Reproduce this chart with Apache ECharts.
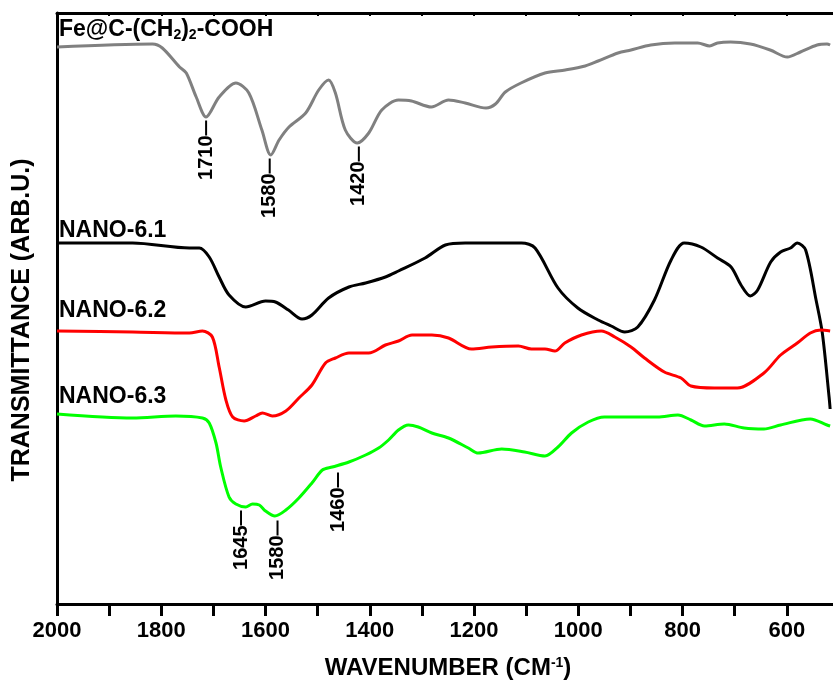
<!DOCTYPE html>
<html>
<head>
<meta charset="utf-8">
</head>
<body style="margin: 0; overflow: hidden">
<!-- the plot frame runs a few pixels past the right edge of the picture, so the chart is a bit wider than the window -->
<div id="container" style="width: 842px; height: 688px"></div>
<script src="https://cdn.jsdelivr.net/npm/echarts@6/dist/echarts.min.js"></script>
<script>
// wavenumbers (cm-1) and transmittance (arb. units, offset stacked)
var feWn = [2000, 1817, 1798, 1765, 1752, 1733, 1714, 1689, 1657, 1632, 1607, 1590, 1574, 1555, 1523, 1498, 1479, 1466, 1447, 1424, 1402, 1377, 1345, 1320, 1282, 1249, 1217, 1177, 1159, 1140, 1110, 1064, 1025, 987, 962, 924, 899, 861, 815, 771, 748, 733, 708, 670, 632, 599, 574, 542, 523, 517];
var feT = [557, 560, 556, 537, 531, 507, 487, 507, 521, 511, 474, 449, 464, 477, 491, 514, 524, 511, 474, 461, 471, 494, 504, 503, 497, 504, 501, 496, 500, 512, 521, 531, 534, 538, 543, 551, 554, 559, 561, 561, 558, 561, 562, 560, 554, 547, 552, 559, 560, 559];

var n61Wn = [2000, 1855, 1746, 1727, 1708, 1689, 1670, 1638, 1600, 1581, 1556, 1530, 1511, 1479, 1440, 1408, 1370, 1345, 1294, 1255, 1217, 1109, 1083, 1039, 1001, 962, 937, 911, 886, 854, 822, 797, 765, 733, 707, 688, 670, 656, 631, 612, 593, 580, 564, 544, 532, 519, 517];
var n61T = [361, 361, 356, 356, 347, 327, 309, 297, 303, 302, 294, 285, 289, 306, 317, 321, 327, 333, 346, 359, 361, 361, 356, 316, 296, 284, 278, 272, 277, 304, 344, 361, 357, 346, 337, 319, 308, 314, 342, 352, 356, 361, 354, 304, 271, 207, 195];

var n62Wn = [2000, 1855, 1746, 1721, 1702, 1689, 1676, 1663, 1641, 1619, 1606, 1587, 1561, 1536, 1511, 1485, 1466, 1440, 1402, 1370, 1345, 1319, 1281, 1249, 1205, 1166, 1115, 1090, 1064, 1045, 1026, 994, 956, 930, 899, 873, 835, 803, 784, 739, 695, 644, 612, 580, 555, 535, 517];
var n62T = [273, 272, 271, 273, 267, 237, 204, 187, 183, 188, 191, 188, 193, 206, 219, 241, 246, 251, 251, 259, 263, 269, 269, 266, 255, 257, 258, 255, 255, 253, 261, 269, 273, 267, 257, 246, 232, 226, 218, 216, 216, 231, 249, 261, 271, 274, 273];

var n63Wn = [2000, 1855, 1772, 1721, 1708, 1695, 1686, 1670, 1657, 1638, 1625, 1612, 1600, 1582, 1561, 1536, 1511, 1491, 1472, 1440, 1408, 1383, 1364, 1345, 1326, 1307, 1281, 1249, 1211, 1192, 1147, 1103, 1064, 1039, 1013, 981, 950, 899, 848, 809, 784, 758, 720, 682, 644, 612, 555, 523, 517];
var n63T = [190, 186, 188, 186, 181, 161, 137, 107, 100, 97, 100, 99, 93, 88, 94, 106, 121, 134, 137, 142, 149, 156, 164, 174, 179, 177, 171, 166, 156, 151, 155, 152, 148, 157, 171, 182, 187, 187, 187, 189, 184, 178, 180, 176, 175, 179, 185, 179, 178];

// peak markers: where drawn, top of the marker line, printed text
var fePeakWn = [1714, 1592, 1421];
var fePeakT = [485, 447, 459];
var fePeakText = ['1710', '1580', '1420'];
var n63PeakWn = [1647, 1577, 1461];
var n63PeakT = [95, 85, 133];
var n63PeakText = ['1645', '1580', '1460'];

var xTicks = [2000, 1800, 1600, 1400, 1200, 1000, 800, 600];

function pairs(xs, ys) {
	return xs.map(function(x, i) { return [x, ys[i]]; });
}
function peaks(xs, ys, txt) {
	return xs.map(function(x, i) { return { value: [x, ys[i]], name: txt[i] }; });
}

var font = 'Liberation Sans';
var chartDom = document.getElementById('container');
var myChart = echarts.init(chartDom);

function lineSeries(name, data, color) {
	return {
		name: name,
		type: 'line',
		data: data,
		smooth: 0.3,
		showSymbol: false,
		lineStyle: { color: color, width: 3 },
		z: 3
	};
}
function peakSeries(data) {
	return {
		type: 'scatter',
		data: data,
		symbol: 'rect',
		symbolSize: [2, 15],
		symbolOffset: [0, 9],
		itemStyle: { color: '#000', opacity: 1 },
		label: {
			show: true,
			position: 'bottom',
			distance: 0,
			rotate: 90,
			align: 'right',
			verticalAlign: 'middle',
			formatter: '{b}',
			color: '#000',
			opacity: 1,
			fontFamily: font,
			fontWeight: 'bold',
			fontSize: 20
		},
		z: 4
	};
}

var option = {
	animation: false,
	grid: { left: 57, right: 0, top: 13, bottom: 84 },
	xAxis: [{
		type: 'value',
		inverse: true,
		min: 500,
		max: 2000,
		interval: 100,
		position: 'bottom',
		axisLine: { lineStyle: { color: '#000', width: 3 } },
		axisTick: {
			length: 12,
			lineStyle: { color: '#000', width: 3 },
			interval: 0
		},
		axisLabel: {
			margin: 16,
			color: '#000',
			fontFamily: font,
			fontWeight: 'bold',
			fontSize: 22,
			formatter: function(v) { return xTicks.indexOf(v) >= 0 ? v : ''; }
		},
		splitLine: { show: false },
		name: 'WAVENUMBER (CM{sup|-1})',
		nameLocation: 'middle',
		nameGap: 52,
		nameTextStyle: {
			color: '#000',
			fontFamily: font,
			fontWeight: 'bold',
			fontSize: 24,
			rich: {
				sup: { fontFamily: font, fontWeight: 'bold', fontSize: 14, verticalAlign: 'top', padding: [0, 0, 10, 0], color: '#000' }
			}
		}
	}, {
		type: 'value',
		inverse: true,
		min: 500,
		max: 2000,
		interval: 100,
		position: 'top',
		axisLine: { show: true, lineStyle: { color: '#000', width: 3 } },
		axisTick: { show: true, inside: true, length: 3, lineStyle: { color: '#000', width: 2 } },
		axisLabel: { show: false },
		splitLine: { show: false }
	}],
	yAxis: {
		type: 'value',
		min: 0,
		max: 591,
		interval: 16.3,
		axisLine: { show: true, lineStyle: { color: '#000', width: 3 } },
		axisTick: { show: true, inside: true, length: 2, lineStyle: { color: '#000', width: 1 } },
		axisLabel: { show: false },
		splitLine: { show: false }
	},
	graphic: [{
		type: 'text',
		left: 59,
		top: 18,
		style: {
			text: 'Fe@C-(CH{sub|2}){sub|2}-COOH',
			fill: '#000',
			font: 'bold 23px "Liberation Sans"',
			rich: {
				sub: { fontFamily: font, fontWeight: 'bold', fontSize: 14, padding: [12, 0, 0, 0], fill: '#000' }
			}
		}
	}, {
		type: 'text', left: 59, top: 219,
		style: { text: 'NANO-6.1', fill: '#000', font: 'bold 23px "Liberation Sans"' }
	}, {
		type: 'text', left: 59, top: 299,
		style: { text: 'NANO-6.2', fill: '#000', font: 'bold 23px "Liberation Sans"' }
	}, {
		type: 'text', left: 59, top: 385,
		style: { text: 'NANO-6.3', fill: '#000', font: 'bold 23px "Liberation Sans"' }
	}, {
		type: 'text',
		x: 22,
		y: 320,
		rotation: Math.PI / 2,
		style: {
			text: 'TRANSMITTANCE (ARB.U.)',
			fill: '#000',
			font: 'bold 25px "Liberation Sans"',
			align: 'center',
			verticalAlign: 'middle'
		}
	}],
	series: [
		lineSeries('Fe@C-(CH2)2-COOH', pairs(feWn, feT), '#808080'),
		lineSeries('NANO-6.1', pairs(n61Wn, n61T), '#000000'),
		lineSeries('NANO-6.2', pairs(n62Wn, n62T), '#ff0000'),
		lineSeries('NANO-6.3', pairs(n63Wn, n63T), '#00ff00'),
		peakSeries(peaks(fePeakWn, fePeakT, fePeakText)),
		peakSeries(peaks(n63PeakWn, n63PeakT, n63PeakText))
	]
};
myChart.setOption(option);
</script>
</body>
</html>
